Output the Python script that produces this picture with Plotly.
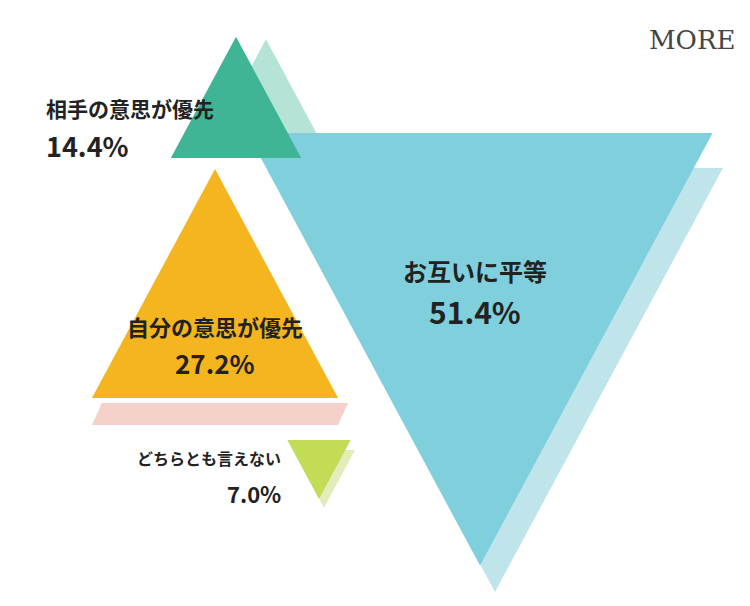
import plotly.graph_objects as go

categories = ["お互いに平等", "自分の意思が優先", "相手の意思が優先", "どちらとも言えない"]
values = [51.4, 27.2, 14.4, 7.0]
labels = ["51.4%", "27.2%", "14.4%", "7.0%"]
colors = ["#7fcfdc", "#f5b51e", "#3fb596", "#c3dc55"]
shadow_colors = ["rgba(170,220,228,0.75)", "rgba(240,190,180,0.7)", "rgba(150,215,195,0.7)", "rgba(215,230,160,0.7)"]
# layout: centre x of base line, base y, direction (+1 upward apex, -1 downward apex), shadow offset
layout_pos = [(472, 125, -1, (15, 35)), (207, 390, 1, (5, 20)), (228, 150, 1, (30, 0)), (311, 432, -1, (5, 10))]
PX_PER_PCT = 9.05

fig = go.Figure()

def tri(cx, by, d, w):
    h = w * 0.93
    return [cx - w / 2, cx + w / 2, cx, cx - w / 2], [by, by, by - d * h, by]

for i, v in enumerate(values):
    cx, by, d, (ox, oy) = layout_pos[i]
    w = v * PX_PER_PCT
    xs, ys = tri(cx + ox, by + oy, d, w * 0.98)
    if i == 1:
        xs, ys = [cx - w / 2 + 10, cx + w / 2 + 10, cx + w / 2, cx - w / 2, cx - w / 2 + 10], [by + 5, by + 5, by + 27, by + 27, by + 5]
    fig.add_trace(go.Scatter(x=xs, y=ys, fill="toself", mode="lines", line=dict(width=0),
                             fillcolor=shadow_colors[i], hoverinfo="skip", showlegend=False))
for i, v in enumerate(values):
    cx, by, d, _ = layout_pos[i]
    xs, ys = tri(cx, by, d, v * PX_PER_PCT)
    fig.add_trace(go.Scatter(x=xs, y=ys, fill="toself", mode="lines", line=dict(width=0),
                             fillcolor=colors[i], hoverinfo="skip", showlegend=False))

font = "Noto Sans CJK JP"
text_pos = [(467, 262, 303, "center", 24, 30), (207, 318, 354, "center", 22, 26),
            (36, 100, 137, "left", 21, 27), (275, 450, 485, "right", 16, 22)]
for i, c in enumerate(categories):
    x, y1, y2, al, s1, s2 = text_pos[i]
    fig.add_annotation(x=x, y=y1, text=f"<b>{c}</b>", showarrow=False, xanchor=al,
                       font=dict(family=font, size=s1, color="#222"))
    fig.add_annotation(x=x, y=y2, text=f"<b>{labels[i]}</b>", showarrow=False, xanchor=al,
                       font=dict(family=font, size=s2, color="#222"))

fig.add_annotation(x=684, y=32, text="MORE", showarrow=False,
                   font=dict(family="DejaVu Serif", size=26, color="#444"))

fig.update_layout(width=750, height=606, margin=dict(l=0, r=0, t=0, b=0),
                  plot_bgcolor="white", paper_bgcolor="white",
                  xaxis=dict(range=[0, 750], visible=False, fixedrange=True),
                  yaxis=dict(range=[606, 0], visible=False, fixedrange=True))
fig.write_html("out.html")
